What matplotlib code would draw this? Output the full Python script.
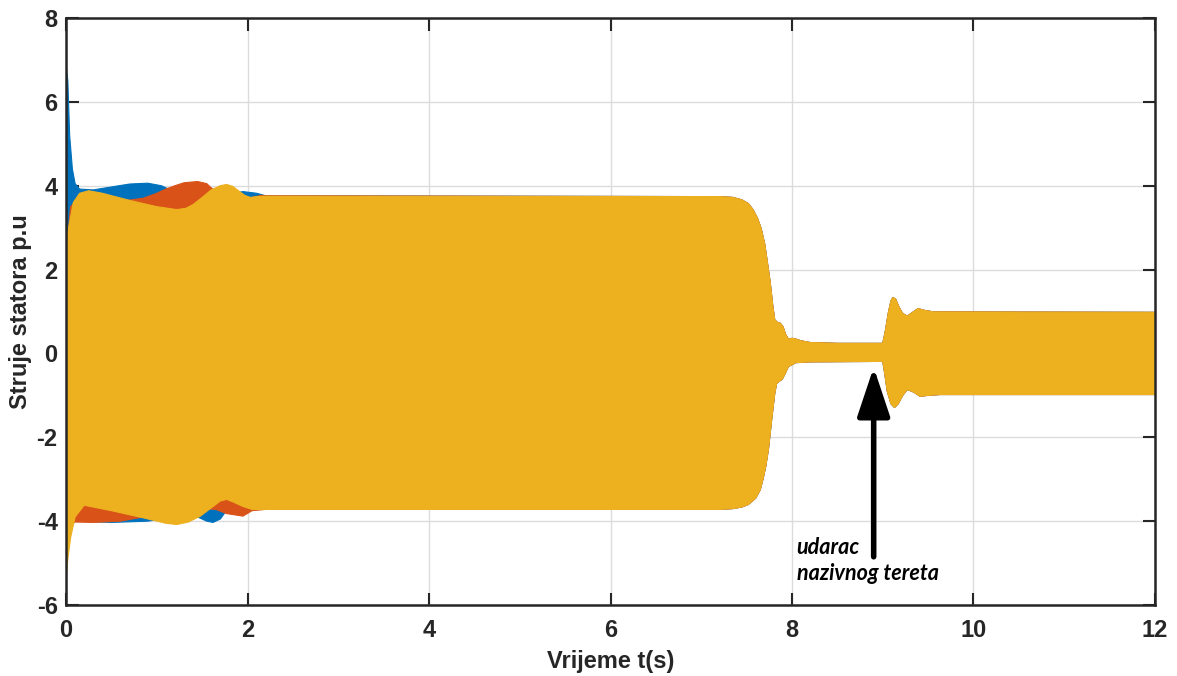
import matplotlib
matplotlib.use("Agg")
import matplotlib.pyplot as plt
import numpy as np

plt.rcParams['font.family'] = ['Liberation Sans', 'DejaVu Sans']
plt.rcParams['axes.unicode_minus'] = False

# envelopes of the three stator phase currents (p.u.)
# early transient, phase a (blue)
a_t_up = [0.0, 0.005, 0.02, 0.04, 0.07, 0.1, 0.15, 0.3, 0.5, 0.7, 0.9, 1.05, 1.2, 1.4, 1.6, 1.8, 1.95, 2.1, 2.2]
a_up = [0.0, 6.8, 6.5, 5.2, 4.4, 4.05, 3.92, 3.9, 3.97, 4.04, 4.06, 4.0, 3.85, 3.72, 3.65, 3.8, 3.86, 3.82, 3.76]
a_t_lo = [0.0, 0.01, 0.05, 0.1, 0.5, 0.9, 1.2, 1.45, 1.55, 1.62, 1.7, 1.75, 1.9, 2.1, 2.2]
a_lo = [0.0, -3.0, -3.9, -4.0, -4.03, -4.0, -3.9, -3.9, -4.0, -4.03, -3.95, -3.8, -3.7, -3.72, -3.72]

# phase b (red)
b_t_up = [0.0, 0.01, 0.05, 0.15, 0.5, 0.85, 1.0, 1.1, 1.2, 1.3, 1.45, 1.55, 1.6, 1.75, 1.9, 2.05, 2.15, 2.2]
b_up = [0.0, 2.5, 3.5, 3.7, 3.6, 3.7, 3.82, 3.92, 4.0, 4.07, 4.1, 4.05, 3.95, 3.7, 3.6, 3.72, 3.77, 3.76]
b_t_lo = [0.0, 0.01, 0.05, 0.1, 0.3, 0.6, 0.85, 1.2, 1.5, 1.65, 1.77, 1.95, 2.05, 2.2]
b_lo = [0.0, -4.3, -4.1, -4.02, -4.03, -4.0, -3.9, -3.75, -3.7, -3.72, -3.82, -3.88, -3.75, -3.72]

# phase c (yellow)
c_t_up = [0.0, 0.005, 0.02, 0.08, 0.15, 0.25, 0.4, 0.7, 1.0, 1.22, 1.32, 1.4, 1.5, 1.6, 1.7, 1.77,
          1.84, 1.9, 1.97, 2.03, 2.1, 2.2]
c_up = [0.0, 1.5, 2.9, 3.6, 3.82, 3.88, 3.82, 3.65, 3.5, 3.43, 3.46, 3.55, 3.72, 3.9, 4.0, 4.03,
        3.98, 3.88, 3.77, 3.72, 3.74, 3.75]
c_t_lo = [0.0, 0.005, 0.02, 0.05, 0.1, 0.2, 0.5, 0.85, 1.1, 1.22, 1.35, 1.48, 1.62, 1.7, 1.77, 1.85,
          1.95, 2.05, 2.2]
c_lo = [0.0, -5.3, -4.9, -4.4, -3.9, -3.62, -3.75, -3.92, -4.05, -4.08, -4.02, -3.88, -3.65, -3.52,
        -3.48, -3.55, -3.65, -3.72, -3.72]

# common envelope after the start-up (all three phases overlap)
late_t_up = [7.2, 7.35, 7.45, 7.52, 7.57, 7.62, 7.66, 7.7, 7.73, 7.76, 7.79, 7.81, 7.84, 7.87, 7.9,
             7.93, 7.96, 8.0, 8.03, 8.1, 8.2, 8.5, 9.0, 9.03, 9.06, 9.09, 9.11, 9.14, 9.18, 9.22, 9.27,
             9.33, 9.39, 9.45, 9.56, 12.0]
late_up = [3.74, 3.72, 3.66, 3.57, 3.43, 3.22, 2.98, 2.6, 2.15, 1.69, 1.1, 0.8, 0.74, 0.72, 0.64,
           0.45, 0.34, 0.36, 0.35, 0.3, 0.26, 0.24, 0.24, 0.55, 0.95, 1.25, 1.33, 1.3, 1.1, 0.95, 0.89,
           0.98, 1.07, 1.03, 0.99, 0.98]
late_t_lo = [7.2, 7.35, 7.45, 7.52, 7.6, 7.65, 7.68, 7.71, 7.74, 7.78, 7.81, 7.83, 7.86, 7.89, 7.92,
             7.96, 8.0, 8.04, 8.2, 9.0, 9.02, 9.05, 9.09, 9.13, 9.17, 9.22, 9.27, 9.34, 9.41, 9.5,
             9.63, 12.0]
late_lo = [-3.72, -3.7, -3.66, -3.6, -3.45, -3.25, -3.0, -2.7, -2.29, -1.5, -0.95, -0.72, -0.66,
           -0.62, -0.5, -0.31, -0.27, -0.22, -0.2, -0.19, -0.45, -0.9, -1.2, -1.29, -1.2, -1.0, -0.86,
           -0.92, -1.02, -1.0, -0.98, -0.98]

colors = ['#0072BD', '#D95319', '#EDB120']
phases = [(a_t_up, a_up, a_t_lo, a_lo), (b_t_up, b_up, b_t_lo, b_lo), (c_t_up, c_up, c_t_lo, c_lo)]

fig = plt.figure(figsize=(11.77, 6.76), dpi=100)
ax = fig.add_axes([0.0561, 0.105, 0.9252, 0.8684])

for (tu, vu, tl, vl), col in zip(phases, colors):
    xu = np.r_[tu, late_t_up]
    yu = np.r_[vu, late_up]
    xl = np.r_[tl, late_t_lo]
    yl = np.r_[vl, late_lo]
    ax.fill(np.r_[xu, xl[::-1]], np.r_[yu, yl[::-1]], color=col, lw=0.8, ec=col)

ax.annotate('', xy=(8.9, -0.33), xytext=(8.9, -4.85),
            arrowprops=dict(arrowstyle='-|>,head_length=30,head_width=10', mutation_scale=1,
                            lw=4, color='black', shrinkA=0, shrinkB=0))
ax.text(8.05, -4.38, 'udarac\nnazivnog tereta', fontsize=15.5, fontweight='bold', style='italic',
        family=['Lato', 'DejaVu Sans'], va='top', ha='left', linespacing=1.3)

ax.set_xlim(0, 12)
ax.set_ylim(-6, 8)
ax.set_xticks(np.arange(0, 13, 2))
ax.set_yticks(np.arange(-6, 9, 2))
ax.grid(True, color='#dcdcdc', lw=1)
ax.set_axisbelow(True)
ax.tick_params(direction='in', length=9, width=1.5, top=True, right=True, labelsize=17,
               colors='#262626')
ax.tick_params(axis='x', pad=10)
ax.tick_params(axis='y', pad=6)
for lab in ax.get_xticklabels() + ax.get_yticklabels():
    lab.set_fontweight('bold')
for s in ax.spines.values():
    s.set_linewidth(1.8)
    s.set_color('#262626')

ax.set_xlabel('Vrijeme t(s)', fontsize=17, fontweight='bold', color='#262626', labelpad=6)
ax.set_ylabel('Struje statora p.u', fontsize=17, fontweight='bold', color='#262626', labelpad=3)

fig.savefig('out.png', dpi=100)
